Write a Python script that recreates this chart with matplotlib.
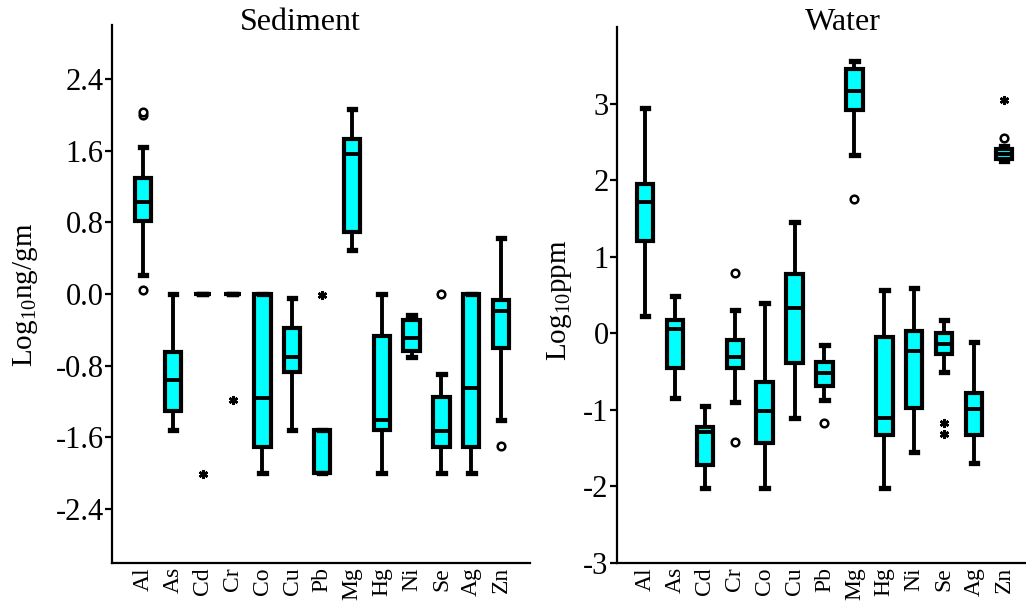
import matplotlib
matplotlib.use("Agg")
import matplotlib.pyplot as plt

plt.rcParams["font.family"] = ["Liberation Serif", "DejaVu Serif"]
plt.rcParams["mathtext.fontset"] = "custom"
plt.rcParams["mathtext.rm"] = "Liberation Serif"
plt.rcParams["mathtext.it"] = "Liberation Serif"
plt.rcParams["axes.unicode_minus"] = False

elements = ["Al", "As", "Cd", "Cr", "Co", "Cu", "Pb", "Mg", "Hg", "Ni", "Se", "Ag", "Zn"]

# Sediment, log10 ng/gm
sed_whislo = [0.21, -1.52, 0.0, 0.0, -2.0, -1.52, -2.0, 0.49, -2.0, -0.70, -2.0, -2.0, -1.40]
sed_q1 = [0.81, -1.31, 0.0, 0.0, -1.71, -0.87, -2.0, 0.69, -1.52, -0.64, -1.71, -1.71, -0.60]
sed_med = [1.03, -0.96, 0.0, 0.0, -1.16, -0.70, -2.0, 1.56, -1.40, -0.49, -1.53, -1.05, -0.19]
sed_q3 = [1.29, -0.65, 0.0, 0.0, 0.0, -0.38, -1.52, 1.73, -0.47, -0.29, -1.15, 0.0, -0.07]
sed_whishi = [1.64, 0.0, 0.0, 0.0, 0.0, -0.04, -1.52, 2.06, 0.0, -0.23, -0.89, 0.0, 0.63]
sed_outliers = {"Al": [2.0, 2.03, 0.04], "Se": [0.0], "Zn": [-1.70]}
sed_extremes = {"Cd": [-2.01], "Cr": [-1.18], "Pb": [-0.01]}

# Water, log10 ppm
wat_whislo = [0.22, -0.84, -2.02, -0.90, -2.02, -1.11, -0.87, 2.33, -2.02, -1.55, -0.51, -1.70, 2.25]
wat_q1 = [1.21, -0.45, -1.72, -0.45, -1.43, -0.39, -0.69, 2.92, -1.33, -0.98, -0.27, -1.33, 2.27]
wat_med = [1.71, 0.05, -1.29, -0.31, -1.02, 0.33, -0.52, 3.16, -1.11, -0.23, -0.14, -0.99, 2.34]
wat_q3 = [1.95, 0.18, -1.23, -0.09, -0.63, 0.78, -0.37, 3.45, -0.05, 0.03, 0.0, -0.78, 2.41]
wat_whishi = [2.94, 0.49, -0.95, 0.30, 0.39, 1.45, -0.15, 3.55, 0.57, 0.59, 0.17, -0.11, 2.45]
wat_outliers = {"Cr": [0.79, -1.42], "Pb": [-1.17], "Mg": [1.76], "Zn": [2.55]}
wat_extremes = {"Se": [-1.17, -1.31], "Zn": [3.05]}

sed_ticks = [-2.4, -1.6, -0.8, 0.0, 0.8, 1.6, 2.4]
wat_ticks = [-3, -2, -1, 0, 1, 2, 3]

CYAN = "#00FFFF"


def draw_panel(ax, lo, q1, med, q3, hi, outliers, extremes):
    stats = []
    for i, name in enumerate(elements):
        stats.append(dict(label=name, whislo=lo[i], q1=q1[i], med=med[i],
                          q3=q3[i], whishi=hi[i], fliers=outliers.get(name, [])))
    pos = list(range(1, len(elements) + 1))
    ax.bxp(stats, positions=pos, widths=0.55, capwidths=0.22, patch_artist=True,
           boxprops=dict(facecolor=CYAN, edgecolor="black", linewidth=3.0),
           whiskerprops=dict(color="black", linewidth=2.8),
           capprops=dict(color="black", linewidth=3.8),
           medianprops=dict(color="black", linewidth=2.8),
           flierprops=dict(marker="o", markerfacecolor="white", markeredgecolor="black",
                           markersize=5.5, markeredgewidth=1.8))
    # extreme values drawn as asterisks
    for name, vals in extremes.items():
        x = elements.index(name) + 1
        ax.plot([x] * len(vals), vals, linestyle="none", marker=(6, 2, 0),
                markersize=6.5, markeredgewidth=1.8, color="black")
    for s in ["top", "right"]:
        ax.spines[s].set_visible(False)
    for s in ["left", "bottom"]:
        ax.spines[s].set_linewidth(1.6)
    ax.tick_params(axis="x", length=0, labelsize=17, pad=3, labelrotation=90)
    ax.tick_params(axis="y", length=5, width=1.6, labelsize=22, pad=1)


fig = plt.figure(figsize=(10.26, 6.08), dpi=100)

ax1 = fig.add_axes([112 / 1026, 45 / 608, 418 / 1026, 538 / 608])
draw_panel(ax1, sed_whislo, sed_q1, sed_med, sed_q3, sed_whishi, sed_outliers, sed_extremes)
ax1.set_xlim(-0.04, 13.97)
ax1.set_ylim(-3.0, 3.0)
ax1.set_yticks(sed_ticks)
ax1.set_yticklabels([f"{t:.1f}" for t in sed_ticks])

ax2 = fig.add_axes([617 / 1026, 45 / 608, 409 / 1026, 536 / 608])
draw_panel(ax2, wat_whislo, wat_q1, wat_med, wat_q3, wat_whishi, wat_outliers, wat_extremes)
ax2.set_xlim(0.06, 13.74)
ax2.set_ylim(-3.0, 4.0)
ax2.set_yticks(wat_ticks)
ax2.set_yticklabels([str(t) for t in wat_ticks])

fig.text(300 / 1026, 1 - 23 / 608, "Sediment", ha="center", va="center", fontsize=23)
fig.text(843 / 1026, 1 - 23 / 608, "Water", ha="center", va="center", fontsize=23)
fig.text(25 / 1026, 1 - 295 / 608, r"Log$_{10}$ng/gm", rotation=90, ha="center", va="center", fontsize=21)
fig.text(560 / 1026, 1 - 300 / 608, r"Log$_{10}$ppm", rotation=90, ha="center", va="center", fontsize=21)

fig.savefig("out.png", dpi=100)
